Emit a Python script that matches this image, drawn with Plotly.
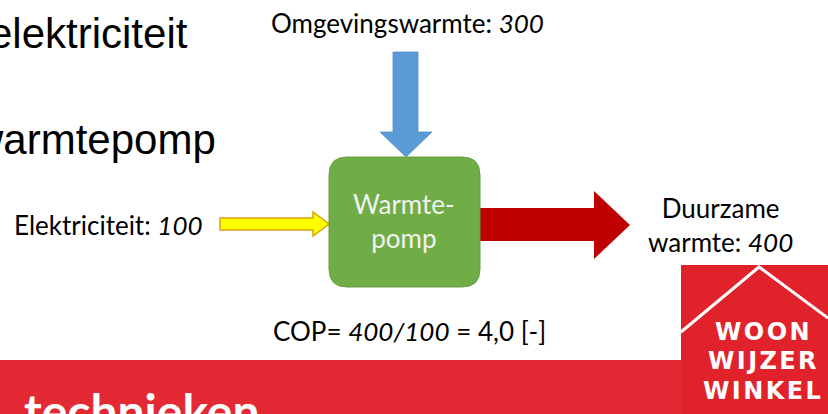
import plotly.graph_objects as go

# ---- data ----
slide_lines = ["elektriciteit", "warmtepomp"]
flow_names = ["Elektriciteit", "Omgevingswarmte", "Duurzame warmte"]
flow_values = [100, 300, 400]
box_label = ["Warmte-", "pomp"]
banner_text = "technieken"
logo_lines = ["WOON", "WIJZER", "WINKEL"]

cop = flow_values[2] / flow_values[0]
cop_str = f"{cop:.1f}".replace(".", ",")

W, H = 828, 414
fig = go.Figure()
fig.add_trace(go.Scatter(x=[0, W], y=[0, H], mode="markers",
                         marker=dict(opacity=0), hoverinfo="skip", showlegend=False))

TXT = "#000000"
CAL = "Lato"

shapes = []
# Banner and logo
shapes.append(dict(type="rect", x0=0, x1=682, y0=360, y1=H, fillcolor="#E32934", line=dict(width=0)))
shapes.append(dict(type="rect", x0=681, x1=W, y0=265, y1=H, fillcolor="#E2222B", line=dict(width=0)))
shapes.append(dict(type="path", path="M 681,332 L 759,267 L 828,318",
                   line=dict(color="white", width=3)))
# Blue arrow (omgevingswarmte)
shapes.append(dict(type="path",
                   path="M 393,52 L 418,52 L 418,132 L 432,132 L 406,157 L 380,132 L 393,132 Z",
                   fillcolor="#5B9BD5", line=dict(color="#4F8FCA", width=0.8)))
# Yellow arrow (elektriciteit)
shapes.append(dict(type="path",
                   path="M 220,218 L 313,218 L 313,212 L 329,224 L 313,236 L 313,230 L 220,230 Z",
                   fillcolor="#FFFF00", line=dict(color="#D9A400", width=1.5)))
# Red arrow (duurzame warmte)
shapes.append(dict(type="path",
                   path="M 480,208 L 594,208 L 594,191 L 630,225 L 594,259 L 594,241 L 480,241 Z",
                   fillcolor="#C00000", line=dict(width=0)))
# Green rounded box
shapes.append(dict(type="path",
                   path=("M 347,157 L 462,157 Q 480,157 480,175 L 480,269 Q 480,287 462,287 "
                         "L 347,287 Q 329,287 329,269 L 329,175 Q 329,157 347,157 Z"),
                   fillcolor="#70AD47", line=dict(color="#65A03E", width=1)))

for s in shapes:
    s.setdefault("xref", "x")
    s.setdefault("yref", "y")
    s["layer"] = "below"

ann = []
# Slide text (cut at left)
ann.append(dict(x=190, y=33, text=slide_lines[0], xanchor="right", yanchor="middle",
                font=dict(family="Liberation Sans", size=42, color="black")))
ann.append(dict(x=218, y=139, text=slide_lines[1], xanchor="right", yanchor="middle",
                font=dict(family="Liberation Sans", size=42, color="black")))
# Flow labels
ann.append(dict(x=407, y=23, text=f"{flow_names[1]}: <i>{flow_values[1]}</i>",
                xanchor="center", yanchor="middle",
                font=dict(family=CAL, size=26, color=TXT)))
ann.append(dict(x=108, y=225, text=f"{flow_names[0]}: <i>{flow_values[0]}</i>",
                xanchor="center", yanchor="middle",
                font=dict(family=CAL, size=26, color=TXT)))
dw = flow_names[2].split(" ")
ann.append(dict(x=720, y=225, text=f"{dw[0]}<br>{dw[1]}: <i>{flow_values[2]}</i>",
                xanchor="center", yanchor="middle",
                font=dict(family=CAL, size=26, color=TXT)))
ann.append(dict(x=404, y=221, text="<br>".join(box_label), xanchor="center", yanchor="middle",
                font=dict(family=CAL, size=26, color="#F2F2F2")))
ann.append(dict(x=409, y=331,
                text=f"COP= <i>{flow_values[2]}/{flow_values[0]}</i> = {cop_str} [-]",
                xanchor="center", yanchor="middle",
                font=dict(family=CAL, size=26, color=TXT)))
# Banner text
ann.append(dict(x=262, y=410, text=banner_text, xanchor="right", yanchor="middle",
                font=dict(family="Lato", size=48, color="white", weight="bold")))
# Logo text (slightly letter-spaced)
for t, yy in zip(logo_lines, [332, 361, 391]):
    ann.append(dict(x=762, y=yy, text="\u200a".join(t), xanchor="center", yanchor="middle",
                    font=dict(family="DejaVu Sans", size=24, color="white", weight="bold")))

for a in ann:
    a.update(xref="x", yref="y", showarrow=False)

fig.update_layout(
    width=W, height=H,
    margin=dict(l=0, r=0, t=0, b=0),
    paper_bgcolor="white", plot_bgcolor="white",
    xaxis=dict(range=[0, W], visible=False, fixedrange=True),
    yaxis=dict(range=[H, 0], visible=False, fixedrange=True),
    shapes=shapes, annotations=ann, showlegend=False,
)
fig.write_html("out.html", config={"displayModeBar": False},
               post_script="document.body.style.margin='0';document.body.style.padding='0';"
                           "document.body.style.overflow='hidden';")
